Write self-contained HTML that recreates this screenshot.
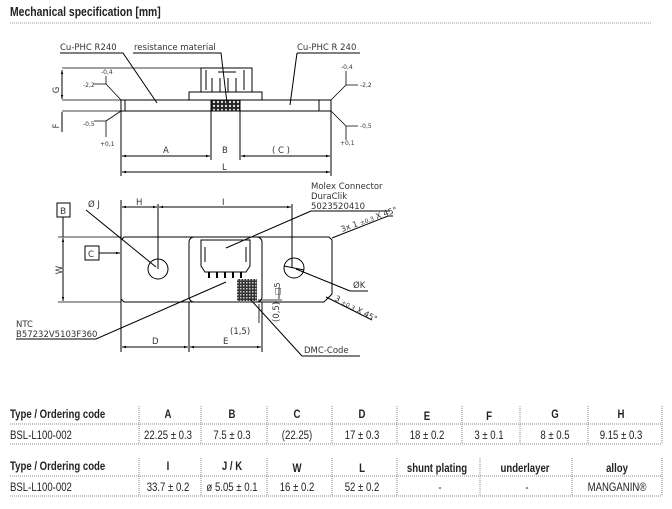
<!DOCTYPE html>
<html><head><meta charset="utf-8"><style>
body{margin:0;background:#fff;width:672px;height:509px;overflow:hidden}
svg{display:block}
.t{font-family:"Liberation Sans",sans-serif}
.d{font-family:"DejaVu Sans","Liberation Sans",sans-serif;fill:#333}
</style></head><body>
<svg width="672" height="509" viewBox="0 0 672 509" xmlns="http://www.w3.org/2000/svg">
<defs>
<marker id="a" viewBox="0 0 10 10" refX="10" refY="5" markerWidth="6" markerHeight="4" orient="auto-start-reverse"><path d="M0,2 L10,5 L0,8z" fill="#000"/></marker>
<pattern id="hx" width="4" height="4" patternUnits="userSpaceOnUse"><rect width="4" height="4" fill="#222"/><circle cx="2" cy="2" r="1.2" fill="#ddd"/></pattern>
<pattern id="qr" width="3" height="3" patternUnits="userSpaceOnUse"><rect width="3" height="3" fill="#333"/><rect width="1.5" height="1.5" fill="#ccc"/></pattern>
</defs>
<text class="t" font-size="13" font-weight="bold" fill="#222" transform="translate(10,16) scale(.8,1)">Mechanical specification [mm]</text>
<line x1="10" y1="23" x2="652" y2="23" stroke="#999" stroke-dasharray="1,1"/>

<g stroke="#000" stroke-width="1" fill="none">
<rect x="121" y="100" width="210" height="11"/>
<line x1="125" y1="100" x2="125" y2="111"/><line x1="319" y1="100" x2="319" y2="111"/>
<rect x="189" y="92" width="73" height="8"/>
<path d="M201,92 V68 H252 V92"/>
<path d="M206,70 V90 M212,78 V92 M220,78 V92 M228,78 V92 M236,78 V92 M244,70 V90 M218,72 H236"/>
<rect x="211" y="100" width="29" height="11" fill="url(#hx)"/>
<line x1="62" y1="68" x2="201" y2="68" stroke-width=".7"/>
<line x1="62" y1="100" x2="121" y2="100" stroke-width=".7"/>
<line x1="62" y1="111" x2="121" y2="111" stroke-width=".7"/>
<line x1="62" y1="70" x2="62" y2="99" marker-start="url(#a)" marker-end="url(#a)"/>
<line x1="62" y1="112" x2="62" y2="132"/>
<line x1="121" y1="111" x2="121" y2="176"/><line x1="211" y1="111" x2="211" y2="160"/><line x1="240" y1="111" x2="240" y2="160"/><line x1="331" y1="111" x2="331" y2="176"/>
<line x1="122" y1="156" x2="210" y2="156" marker-start="url(#a)" marker-end="url(#a)"/>
<line x1="241" y1="156" x2="330" y2="156" marker-start="url(#a)" marker-end="url(#a)"/>
<line x1="122" y1="172" x2="330" y2="172" marker-start="url(#a)" marker-end="url(#a)"/>
<path d="M60,53 H123 L157,103"/><path d="M133,53 H221 L227,103"/><path d="M297,53 H360 M297,53 L290,105"/>
<path d="M106,76 V84 M106,84 H94 M106,84 L121,100" stroke-width=".8"/>
<path d="M106,137 V121 M106,121 H94 M106,121 L121,111" stroke-width=".8"/>
<path d="M346,71 V85 H358 M346,85 L331,100" stroke-width=".8"/>
<path d="M346,140 V126 H358 M346,126 L331,111" stroke-width=".8"/>
<path d="M124,237 H329 L332,240 V294 L324,302 H124 L121,299 V240 Z"/>
<rect x="189" y="237" width="73" height="65" rx="5"/>
<path d="M201,240 H250 V266 L246,272 H205 L201,266 Z M205,247 V262 M246,247 V262"/>
<path d="M209,272 V278 M217,272 V278 M225,272 V278 M233,272 V278 M241,272 V278" stroke-width="2"/>
<rect x="237" y="279" width="20" height="22" fill="url(#qr)" stroke="none"/>
<circle cx="158" cy="269" r="10"/><circle cx="294" cy="268" r="10"/>
<line x1="284" y1="266" x2="304" y2="270"/>
<line x1="63" y1="238" x2="63" y2="301" marker-start="url(#a)" marker-end="url(#a)"/>
<line x1="58" y1="237" x2="121" y2="237" stroke-width=".7"/><line x1="58" y1="302" x2="121" y2="302" stroke-width=".7"/>
<line x1="63" y1="217" x2="63" y2="237"/>
<line x1="99" y1="253" x2="120" y2="253" marker-end="url(#a)"/>
<line x1="121" y1="200" x2="121" y2="352"/><line x1="158" y1="204" x2="158" y2="269"/><line x1="292" y1="204" x2="292" y2="268"/>
<line x1="189" y1="302" x2="189" y2="352"/><line x1="262" y1="302" x2="262" y2="352"/>
<line x1="122" y1="207" x2="157" y2="207" marker-start="url(#a)" marker-end="url(#a)"/>
<line x1="159" y1="207" x2="291" y2="207" marker-start="url(#a)" marker-end="url(#a)"/>
<line x1="122" y1="347" x2="188" y2="347" marker-start="url(#a)" marker-end="url(#a)"/>
<line x1="190" y1="347" x2="261" y2="347" marker-start="url(#a)" marker-end="url(#a)"/>
<path d="M86,210 L156,267"/>
<path d="M311,211 H390 M311,211 L226,248"/>
<path d="M393,216 H388 L332,238"/>
<path d="M350,291 H368 M350,291 L296,269"/>
<path d="M372,320 L326,297"/>
<path d="M16,339 H96 L226,282"/>
<path d="M302,356 H360 M302,356 L250,299"/>
<path d="M258,300 H282 M259,304 V323 M279,287 V299 M253,302 H282" stroke-width=".8"/>
<rect x="57" y="203" width="13" height="14" fill="#fff"/>
<rect x="85" y="246" width="14" height="14" fill="#fff"/>
</g>
<g class="d" font-size="8.5">
<text x="60" y="50">Cu-PHC R240</text>
<text x="134" y="50">resistance material</text>
<text x="297" y="50">Cu-PHC R 240</text>
<text x="163" y="153">A</text><text x="222" y="153">B</text><text x="272" y="153">( C )</text><text x="222" y="170">L</text>
<text x="59" y="90" transform="rotate(-90 59 90)" text-anchor="middle">G</text>
<text x="59" y="126" transform="rotate(-90 59 126)" text-anchor="middle">F</text>
<text x="101" y="74" font-size="6">-0,4</text>
<text x="83" y="87" font-size="6">-2,2</text>
<text x="83" y="126" font-size="6">-0,5</text>
<text x="100" y="146" font-size="6">+0,1</text>
<text x="341" y="69" font-size="6">-0,4</text>
<text x="360" y="87" font-size="6">-2,2</text>
<text x="360" y="128" font-size="6">-0,5</text>
<text x="340" y="145" font-size="6">+0,1</text>
<text x="60" y="214" font-size="9">B</text><text x="88" y="257">C</text>
<text x="62" y="270" transform="rotate(-90 62 270)" text-anchor="middle">W</text>
<text x="88" y="207">Ø J</text><text x="136" y="205">H</text><text x="222" y="205">I</text>
<text x="311" y="189">Molex Connector</text><text x="311" y="199">DuraClik</text><text x="311" y="209">5023520410</text>
<text x="342" y="232" font-size="8" transform="rotate(-20 342 232)">3x 1 <tspan font-size="6">±0,3</tspan> X 45°</text>
<text x="353" y="288">ØK</text>
<text x="334" y="300" font-size="8" transform="rotate(28 334 300)">3 <tspan font-size="6">±0,3</tspan> X 45°</text>
<text x="16" y="327">NTC</text><text x="16" y="337">B57232V5103F360</text>
<text x="152" y="344">D</text><text x="223" y="344">E</text>
<text x="230" y="334">(1,5)</text>
<text x="279" y="322" transform="rotate(-90 279 322)">(0,5)</text>
<text x="280" y="295" font-size="8" transform="rotate(-90 280 295)">□5</text>
<text x="304" y="353">DMC-Code</text>
</g>

<g class="t" font-size="12" fill="#222">
<g font-weight="bold">
<text transform="translate(10,418) scale(.8,1)">Type / Ordering code</text>
<g text-anchor="middle">
<text transform="translate(168,418) scale(.8,1)">A</text><text transform="translate(232,418) scale(.8,1)">B</text><text transform="translate(297,418) scale(.8,1)">C</text><text transform="translate(362,418) scale(.8,1)">D</text><text transform="translate(427,420) scale(.8,1)">E</text><text transform="translate(489,420) scale(.8,1)">F</text><text transform="translate(555,418) scale(.8,1)">G</text><text transform="translate(621,418) scale(.8,1)">H</text>
</g>
<text transform="translate(10,470) scale(.8,1)">Type / Ordering code</text>
<g text-anchor="middle">
<text transform="translate(168,470) scale(.8,1)">I</text><text transform="translate(232,470) scale(.8,1)">J / K</text><text transform="translate(297,472) scale(.8,1)">W</text><text transform="translate(362,472) scale(.8,1)">L</text><text transform="translate(437,472) scale(.8,1)">shunt plating</text><text transform="translate(525,472) scale(.8,1)">underlayer</text><text transform="translate(617,472) scale(.8,1)">alloy</text>
</g>
</g>
<text transform="translate(10,439) scale(.8,1)">BSL-L100-002</text>
<g text-anchor="middle">
<text transform="translate(168,439) scale(.8,1)">22.25 ± 0.3</text><text transform="translate(232,439) scale(.8,1)">7.5 ± 0.3</text><text transform="translate(297,439) scale(.8,1)">(22.25)</text><text transform="translate(362,439) scale(.8,1)">17 ± 0.3</text><text transform="translate(427,439) scale(.8,1)">18 ± 0.2</text><text transform="translate(489,439) scale(.8,1)">3 ± 0.1</text><text transform="translate(555,439) scale(.8,1)">8 ± 0.5</text><text transform="translate(621,439) scale(.8,1)">9.15 ± 0.3</text>
</g>
<text transform="translate(10,491) scale(.8,1)">BSL-L100-002</text>
<g text-anchor="middle">
<text transform="translate(168,491) scale(.8,1)">33.7 ± 0.2</text><text transform="translate(232,491) scale(.8,1)">ø 5.05 ± 0.1</text><text transform="translate(297,491) scale(.8,1)">16 ± 0.2</text><text transform="translate(362,491) scale(.8,1)">52 ± 0.2</text><text transform="translate(440,491) scale(.8,1)">-</text><text transform="translate(527,491) scale(.8,1)">-</text><text transform="translate(617,491) scale(.8,1)">MANGANIN®</text>
</g>
</g>
<g stroke="#888" stroke-dasharray="1,1" stroke-width="1">
<line x1="10" y1="424" x2="662" y2="424"/><line x1="10" y1="444" x2="662" y2="444"/>
<line x1="10" y1="476" x2="662" y2="476"/><line x1="10" y1="496" x2="662" y2="496"/>
<path d="M139,406V444 M201,406V444 M267,406V444 M332,406V444 M397,406V444 M462,406V444 M520,406V444 M588,406V444 M662,406V444"/>
<path d="M139,458V496 M201,458V496 M267,458V496 M332,458V496 M397,458V496 M480,458V496 M572,458V496 M662,458V496"/>
</g>
</svg>
</body></html>
